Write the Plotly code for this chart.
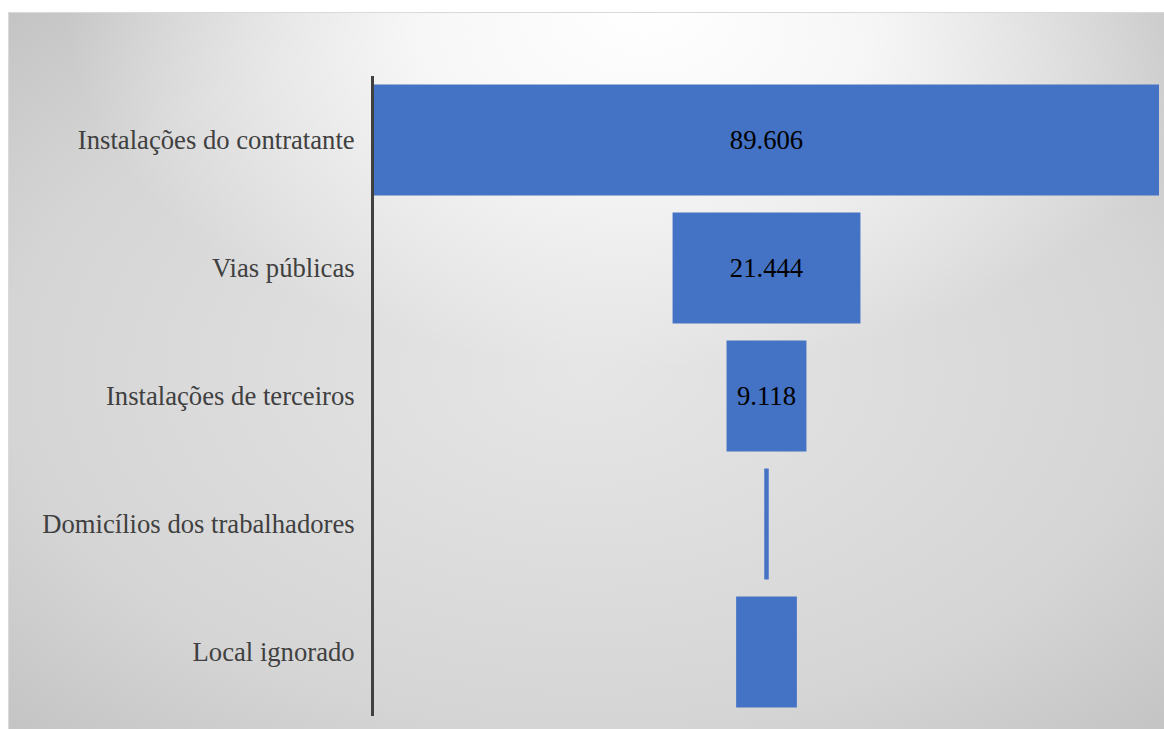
import base64
import plotly.graph_objects as go

# ---- data ----
categories = [
    "Instalações do contratante",
    "Vias públicas",
    "Instalações de terceiros",
    "Domicílios dos trabalhadores",
    "Local ignorado",
]
values = [89606, 21444, 9118, 510, 6930]
show_label = [True, True, True, False, False]

# ---- geometry (pixels) ----
W, H = 1164, 729
L, R, T, B = 374, 5, 76, 13
pw, ph = W - L - R, H - T - B

# background gradient as an svg image
svg = f"""<svg xmlns='http://www.w3.org/2000/svg' width='1156' height='717' viewBox='0 0 1156 717' preserveAspectRatio='none'>
<defs>
<radialGradient id='g1' cx='0.5' cy='0.5' r='0.7071' gradientUnits='objectBoundingBox'>
<stop offset='0' stop-color='#e6e6e6'/>
<stop offset='0.7' stop-color='#d5d5d5'/>
<stop offset='1' stop-color='#c4c4c4'/>
</radialGradient>
<radialGradient id='g2' cx='0.55' cy='0' r='0.5' gradientUnits='objectBoundingBox'>
<stop offset='0' stop-color='#ffffff' stop-opacity='1'/>
<stop offset='0.4' stop-color='#ffffff' stop-opacity='0.8'/>
<stop offset='1' stop-color='#ffffff' stop-opacity='0'/>
</radialGradient>
</defs>
<rect x='0' y='0' width='1156' height='717' fill='url(#g1)'/>
<rect x='0' y='0' width='1156' height='717' fill='url(#g2)'/>
</svg>"""
src = "data:image/svg+xml;base64," + base64.b64encode(svg.encode()).decode()

def px2x(p):
    return (p - L) / pw

def px2y(p):
    return (H - B - p) / ph

texttemplate = ["%{value:,}" if s else "" for s in show_label]

fig = go.Figure(
    go.Funnel(
        y=categories,
        x=values,
        marker=dict(color="#4472C4", line=dict(width=0)),
        connector=dict(visible=False),
        texttemplate=texttemplate,
        textposition="inside",
        insidetextanchor="middle",
        textangle=0,
        textfont=dict(family="Liberation Serif", size=26.67, color="#000000"),
        hoverinfo="y+x",
    )
)

fig.update_layout(
    width=W,
    height=H,
    margin=dict(l=L, r=R, t=T, b=B, pad=0),
    paper_bgcolor="#ffffff",
    plot_bgcolor="rgba(0,0,0,0)",
    separators=",.",
    funnelgap=0.133,
    showlegend=False,
    images=[
        dict(
            source=src,
            xref="paper",
            yref="paper",
            x=px2x(8),
            y=px2y(12),
            sizex=(W - 8) / pw,
            sizey=(H - 12) / ph,
            xanchor="left",
            yanchor="top",
            sizing="stretch",
            layer="below",
        )
    ],
    shapes=[
        dict(
            type="rect",
            xref="paper",
            yref="paper",
            x0=px2x(8.5),
            x1=px2x(W + 5),
            y0=px2y(12.5),
            y1=px2y(H + 5),
            line=dict(color="#d9d9d9", width=1),
            fillcolor="rgba(0,0,0,0)",
            layer="below",
        )
    ],
)

fig.update_xaxes(visible=False, range=[-values[0] / 2, values[0] / 2])
fig.update_yaxes(
    showline=True,
    linecolor="#404040",
    linewidth=3,
    ticks="",
    showgrid=False,
    ticklabelstandoff=11,
    tickfont=dict(family="Liberation Serif", size=26.67, color="#404040"),
)

fig.write_html(
    "out.html",
    config={"displayModeBar": False},
    post_script="document.body.style.margin='0';document.body.style.overflow='hidden';",
)
